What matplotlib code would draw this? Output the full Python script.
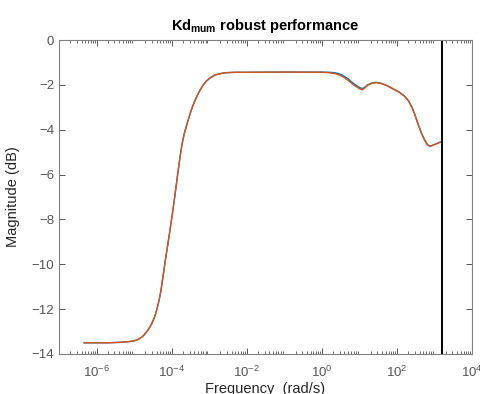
import numpy as np
import matplotlib
matplotlib.use('Agg')
import matplotlib.pyplot as plt
from matplotlib.ticker import LogLocator, NullFormatter

# log10 of frequency (rad/s) and magnitude (dB)
logw = [-6.33, -6.0, -5.7, -5.38, -5.2, -5.02, -4.92, -4.84, -4.75, -4.66,
        -4.60, -4.53, -4.48, -4.44, -4.40, -4.356, -4.32, -4.284, -4.23,
        -4.17, -4.11, -4.05, -3.98, -3.91, -3.84, -3.78, -3.72, -3.66, -3.60,
        -3.55, -3.51, -3.45, -3.378, -3.31, -3.245, -3.16, -3.067, -2.96,
        -2.846, -2.70, -2.579, -2.313, -2.0, -1.0, 0.0, 0.2, 0.35, 0.45, 0.56,
        0.70, 0.83, 0.95, 1.02, 1.08, 1.14, 1.22, 1.32, 1.45, 1.60, 1.75,
        1.948, 2.07, 2.214, 2.30, 2.393, 2.46, 2.526, 2.59, 2.659, 2.73,
        2.792, 2.84, 2.88, 2.94, 3.013, 3.10, 3.192]
mag_orange = [-13.50, -13.50, -13.50, -13.48, -13.46, -13.42, -13.37, -13.30,
              -13.18, -13.00, -12.85, -12.65, -12.45, -12.28, -12.05, -11.76,
              -11.48, -11.16, -10.55, -9.85, -9.20, -8.55, -7.75, -6.90,
              -6.00, -5.25, -4.62, -4.15, -3.80, -3.52, -3.30, -3.00, -2.70,
              -2.45, -2.24, -2.01, -1.82, -1.67, -1.56, -1.50, -1.46, -1.44,
              -1.44, -1.43, -1.44, -1.46, -1.50, -1.55, -1.64, -1.80, -1.98,
              -2.12, -2.18, -2.22, -2.14, -2.02, -1.94, -1.90, -1.95, -2.05,
              -2.23, -2.34, -2.53, -2.70, -2.98, -3.25, -3.57, -3.87, -4.17,
              -4.42, -4.61, -4.70, -4.73, -4.71, -4.66, -4.60, -4.54]
mag_blue = [-13.50, -13.50, -13.50, -13.48, -13.46, -13.42, -13.37, -13.30,
            -13.18, -13.00, -12.85, -12.65, -12.45, -12.28, -12.05, -11.76,
            -11.48, -11.16, -10.55, -9.85, -9.20, -8.55, -7.75, -6.90,
            -6.00, -5.25, -4.62, -4.15, -3.80, -3.52, -3.30, -3.00, -2.70,
            -2.45, -2.24, -2.01, -1.82, -1.67, -1.56, -1.50, -1.46, -1.44,
            -1.44, -1.43, -1.43, -1.44, -1.46, -1.50, -1.58, -1.73, -1.92,
            -2.06, -2.13, -2.17, -2.11, -2.00, -1.93, -1.89, -1.94, -2.04,
            -2.22, -2.33, -2.52, -2.69, -2.97, -3.24, -3.56, -3.87, -4.18,
            -4.44, -4.63, -4.71, -4.73, -4.70, -4.65, -4.59, -4.53]
w_cut = 10 ** 3.19

title = r'Kd$_{\mathbf{mum}}$ robust performance'
xlabel = 'Frequency  (rad/s)'
ylabel = 'Magnitude (dB)'

plt.rcParams['font.family'] = ['Liberation Sans', 'DejaVu Sans']
plt.rcParams['mathtext.fontset'] = 'custom'
plt.rcParams['mathtext.rm'] = 'Liberation Sans'
plt.rcParams['mathtext.bf'] = 'Liberation Sans:bold'
plt.rcParams['mathtext.it'] = 'Liberation Sans:italic'

fig = plt.figure(figsize=(4.81, 3.94), dpi=100)
ax = fig.add_axes([59 / 481, 40 / 394, 413 / 481, 314 / 394])

w = 10 ** np.array(logw)
ax.semilogx(w, mag_blue, color='#0072BD', lw=1.0)
ax.semilogx(w, mag_orange, color='#D95319', lw=1.0)
ax.axvline(w_cut, color='black', lw=1.4)

ax.set_xlim(1e-7, 1e4)
ax.set_ylim(-14, 0)
ax.set_yticks(np.arange(-14, 1, 2))
ax.set_xticks([1e-6, 1e-4, 1e-2, 1e0, 1e2, 1e4])
ax.xaxis.set_minor_locator(LogLocator(base=10, subs=np.arange(2, 10), numticks=30))
ax.xaxis.set_minor_formatter(NullFormatter())

axc = '#262626'
for s in ax.spines.values():
    s.set_color('#808080')
    s.set_linewidth(0.8)
ax.tick_params(which='both', direction='in', top=True, right=True,
               colors='#555555', labelsize=9.5, labelcolor='#555555')
ax.tick_params(which='major', length=4, width=0.7)
ax.tick_params(which='minor', length=2.2, width=0.6)
ax.tick_params(axis='x', pad=8)

ax.set_title(title, fontsize=10.5, fontweight='bold', color='black', pad=7)
ax.set_xlabel(xlabel, fontsize=10.5, color=axc, labelpad=1)
ax.set_ylabel(ylabel, fontsize=10.5, color=axc, labelpad=8)

fig.savefig('out.png', dpi=100)
